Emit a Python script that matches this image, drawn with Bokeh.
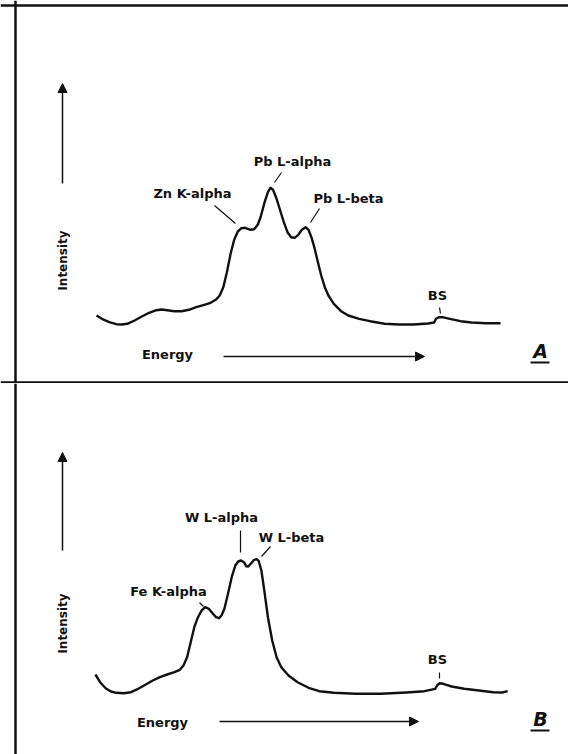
import math
from bokeh.plotting import figure
from bokeh.layouts import column
from bokeh.models import Range1d, Arrow, NormalHead, Span
from bokeh.core.properties import value
from bokeh.embed import file_html
from bokeh.resources import INLINE

# ---------------- data (arbitrary energy channel / intensity units) ----------------
energy_a = [88.0, 93.4, 100.7, 107.9, 113.4, 118.8, 126.1, 133.3, 140.6, 147.8, 153.2, 158.7,
            165.9, 173.2, 180.4, 187.7, 194.9, 202.1, 207.6, 211.2, 214.8, 218.4, 222.1, 225.7,
            229.3, 232.9, 236.6, 242.0, 245.6, 249.2, 252.1, 255.8, 259.4, 261.9, 264.5, 268.1,
            271.7, 275.3, 279.0, 282.6, 286.2, 289.8, 293.4, 297.1, 300.0, 302.9, 305.8, 309.0,
            312.7, 316.3, 319.9, 325.3, 332.6, 339.8, 350.7, 361.6, 376.1, 390.6, 405.0, 419.5,
            425.7, 427.5, 430.4, 434.0, 441.3, 452.1, 463.0, 477.5, 492.0]
intensity_a = [68.0, 64.7, 61.3, 59.3, 59.0, 59.7, 63.0, 67.0, 70.7, 73.3, 74.0, 73.3,
               72.3, 72.3, 73.7, 76.3, 78.3, 80.7, 84.0, 88.0, 96.3, 111.3, 129.7, 143.7,
               152.0, 155.3, 155.7, 153.7, 154.3, 158.7, 166.3, 180.3, 191.3, 195.7, 193.7, 184.7,
               173.0, 161.3, 151.3, 146.3, 145.7, 148.7, 153.7, 156.3, 153.7, 146.3, 136.3, 123.0,
               108.0, 96.3, 88.0, 79.7, 72.3, 68.0, 64.7, 62.3, 59.7, 59.0, 59.0, 60.0,
               61.0, 64.7, 66.3, 66.3, 64.7, 62.3, 61.0, 60.3, 60.3]

energy_b = [86.9, 91.6, 97.1, 102.5, 107.9, 115.2, 122.4, 129.7, 136.9, 144.2, 151.4, 158.7,
            165.9, 171.3, 175.0, 178.6, 182.2, 185.8, 189.5, 193.1, 196.7, 200.3, 204.0, 207.6,
            210.5, 213.0, 215.9, 219.5, 223.2, 226.8, 229.7, 232.6, 235.5, 237.7, 239.8, 242.7,
            245.6, 248.2, 250.3, 252.9, 255.8, 259.4, 263.7, 268.1, 272.8, 280.0, 289.1, 300.0,
            310.8, 325.3, 347.1, 372.4, 397.8, 415.9, 426.8, 428.6, 431.1, 434.8, 443.1, 455.8,
            470.3, 484.8, 493.8, 499.2]
intensity_b = [72.0, 64.3, 58.3, 55.0, 53.7, 53.3, 54.3, 57.7, 61.7, 66.0, 69.3, 72.0,
               74.3, 76.7, 81.0, 89.3, 104.3, 119.3, 129.3, 136.0, 139.3, 137.7, 133.3, 129.3,
               128.3, 131.0, 137.7, 152.7, 169.3, 181.0, 185.0, 186.0, 184.3, 180.3, 180.0, 183.3,
               186.7, 187.3, 185.3, 176.0, 156.0, 129.3, 106.0, 89.3, 79.3, 71.0, 64.3, 58.7,
               55.3, 53.7, 52.7, 52.7, 54.0, 55.3, 57.7, 61.0, 63.3, 62.7, 60.0, 57.7,
               56.0, 54.3, 54.0, 55.3]

labels_a = ["Zn K-alpha", "Pb L-alpha", "Pb L-beta", "BS"]
labels_b = ["Fe K-alpha", "W L-alpha", "W L-beta", "BS"]
panel_letters = ["A", "B"]
axis_x_title = "Energy"
axis_y_title = "Intensity"

# ---------------- label placement ----------------
lab_a_x = [184, 284, 340, 429]
lab_a_y = [190, 222, 185, 88]
lead_a = dict(x0=[206, 273, 311, 431], y0=[178, 211, 175, 76],
              x1=[227, 266, 302, 432], y1=[160, 201, 161, 70])

lab_b_x = [160, 213, 283, 429]
lab_b_y = [155, 229, 209, 87]
lead_b = dict(x0=[191, 232, 262, 431], y0=[144, 216, 200, 74],
              x1=[195, 232, 253, 431], y1=[140, 194, 190, 68])

FONT = value("DejaVu Sans")
INK = "#111111"


def make_panel(height, y0, energy, intensity, names, lx, ly, lead, letter,
               vy0, vy1, hy, hx0, hx1, ey, ex, top_border):
    p = figure(width=568, height=height, x_range=Range1d(-8, 560), y_range=Range1d(y0, y0 + height),
               output_backend="svg", toolbar_location=None, x_axis_type=None, y_axis_type=None,
               min_border=0)
    p.grid.visible = False
    p.outline_line_color = None
    p.background_fill_color = "white"
    p.border_fill_color = "white"

    # frame lines
    p.add_layout(Span(location=7, dimension="height", line_color=INK, line_width=2.5))
    if top_border:
        p.add_layout(Span(location=y0 + height - 5, dimension="width", line_color=INK, line_width=2.5))
        p.add_layout(Span(location=y0 + 1, dimension="width", line_color=INK, line_width=2.5))

    # spectrum
    p.line(energy, intensity, line_color=INK, line_width=2.4, line_join="round")

    # peak labels + leaders
    p.text(x=lx, y=ly, text=names, text_font=FONT, text_font_style="bold",
           text_font_size="13px", text_align="center", text_baseline="middle", text_color=INK)
    p.segment(x0=lead["x0"], y0=lead["y0"], x1=lead["x1"], y1=lead["y1"],
              line_color=INK, line_width=1.2)

    # axis arrows
    p.add_layout(Arrow(x_start=54, y_start=vy0, x_end=54, y_end=vy1, line_color=INK, line_width=1.5,
                       end=NormalHead(size=9, fill_color=INK, line_color=INK, line_width=1)))
    p.add_layout(Arrow(x_start=hx0, y_start=hy, x_end=hx1, y_end=hy, line_color=INK, line_width=1.5,
                       end=NormalHead(size=9, fill_color=INK, line_color=INK, line_width=1)))
    p.text(x=[54], y=[123], text=[axis_y_title], angle=math.pi / 2, text_font=FONT,
           text_font_style="bold", text_font_size="12px", text_align="center",
           text_baseline="middle", text_color=INK)
    p.text(x=[ex], y=[ey], text=[axis_x_title], text_font=FONT, text_font_style="bold",
           text_font_size="13px", text_align="center", text_baseline="middle", text_color=INK)

    # panel letter
    p.text(x=[532], y=[ey + 4], text=[letter], text_font=FONT, text_font_style="bold italic",
           text_font_size="19px", text_align="center", text_baseline="middle", text_color=INK)
    p.segment(x0=[522], y0=[ey - 8], x1=[541], y1=[ey - 8], line_color=INK, line_width=2)
    return p


top = make_panel(383, 0, energy_a, intensity_a, labels_a, lab_a_x, lab_a_y, lead_a, panel_letters[0],
                 vy0=200, vy1=300, hy=27, hx0=215, hx1=416, ey=29, ex=159, top_border=True)
bottom = make_panel(371, -8, energy_b, intensity_b, labels_b, lab_b_x, lab_b_y, lead_b, panel_letters[1],
                    vy0=196, vy1=294, hy=25, hx0=211, hx1=410, ey=24, ex=154, top_border=False)

layout = column(top, bottom, spacing=0)
open("out.html", "w").write(file_html(layout, INLINE))
